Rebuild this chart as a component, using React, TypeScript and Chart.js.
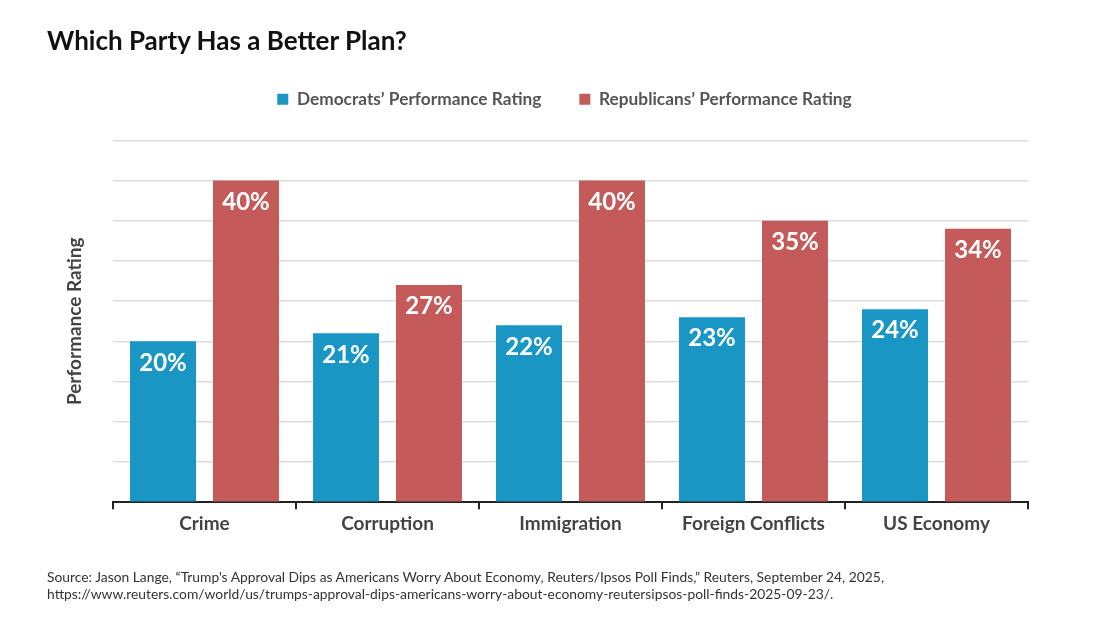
import React, { useEffect, useRef } from "react";
import { Chart, registerables } from "chart.js";

Chart.register(...registerables);

const categories = ["Crime", "Corruption", "Immigration", "Foreign Conflicts", "US Economy"];
const democrats = [20, 21, 22, 23, 24];
const republicans = [40, 27, 40, 35, 34];
const seriesNames = ["Democrats\u2019 Performance Rating", "Republicans\u2019 Performance Rating"];

const BLUE = "#1a96c4";
const RED = "#c45a5a";

const valueLabels = {
  id: "valueLabels",
  afterDatasetsDraw(chart: any) {
    const ctx = chart.ctx;
    ctx.save();
    ctx.fillStyle = "#ffffff";
    ctx.font = "bold 24px Lato";
    ctx.textAlign = "center";
    ctx.textBaseline = "middle";
    chart.data.datasets.forEach((ds: any, i: number) => {
      const meta = chart.getDatasetMeta(i);
      meta.data.forEach((bar: any, j: number) => {
        ctx.fillText(`${ds.data[j]}%`, bar.x, bar.y + 21.5);
      });
    });
    ctx.restore();
  },
};

const legendSpacer = {
  id: "legendSpacer",
  beforeLayout(chart: any) {
    const lg = chart.legend;
    if (lg && !lg.__patched) {
      const orig = lg.fit;
      lg.fit = function () {
        orig.call(this);
        this.height += 22.5;
      };
      lg.__patched = true;
    }
  },
  afterLayout(chart: any) {
    const lg = chart.legend;
    if (lg) {
      lg.left = 9;
      lg.right = 1120;
    }
  },
};

export default function App() {
  const ref = useRef<HTMLCanvasElement>(null);
  useEffect(() => {
    if (!ref.current) return;
    const chart = new Chart(ref.current, {
      type: "bar",
      data: {
        labels: categories,
        datasets: [
          { label: seriesNames[0], data: democrats, backgroundColor: BLUE, categoryPercentage: 0.907, barPercentage: 0.795 },
          { label: seriesNames[1], data: republicans, backgroundColor: RED, categoryPercentage: 0.907, barPercentage: 0.795 },
        ],
      },
      options: {
        animation: false,
        responsive: false,
        maintainAspectRatio: false,
        layout: { padding: { top: 52.5, left: 59.6, right: 92, bottom: 88 } },
        plugins: {
          tooltip: { enabled: false },
          legend: {
            display: true,
            position: "top",
            labels: {
              boxWidth: 11,
              boxHeight: 11,
              padding: 38,
              color: "#555555",
              font: { family: "Lato", size: 17.3, weight: "bold" },
            },
          },
        },
        scales: {
          x: {
            grid: {
              display: true,
              drawOnChartArea: false,
              drawTicks: true,
              tickLength: 7,
              color: "#222222",
              lineWidth: 2,
              offset: true,
            },
            border: { display: true, color: "#222222", width: 2 },
            ticks: {
              color: "#444444",
              padding: 3,
              font: { family: "Lato", size: 19, weight: "bold" },
            },
          },
          y: {
            min: 0,
            max: 45,
            ticks: { display: false, stepSize: 5 },
            grid: { color: "#dddddd", lineWidth: 1.5, drawTicks: false },
            border: { display: false },
            title: {
              display: true,
              text: "Performance Rating",
              color: "#444444",
              font: { family: "Lato", size: 19, weight: "bold" },
              padding: { top: 4, bottom: 26.6 },
            },
          },
        },
      },
      plugins: [valueLabels, legendSpacer],
    });
    return () => chart.destroy();
  }, []);

  return (
    <div style={{ position: "absolute", left: 0, top: 0, width: 1120, height: 626, background: "#fff", fontFamily: "Lato" }}>
      <canvas ref={ref} width={1120} height={626} style={{ position: "absolute", left: 0, top: 0, width: 1120, height: 626 }} />
      <div style={{ position: "absolute", left: 47, top: 24, fontSize: 26, fontWeight: "bold", color: "#111" }}>
        Which Party Has a Better Plan?
      </div>
      <div style={{ position: "absolute", left: 47, top: 568, fontSize: 13.85, lineHeight: "17px", color: "#333" }}>
        Source: Jason Lange, {"\u201C"}Trump's Approval Dips as Americans Worry About Economy, Reuters/Ipsos Poll Finds,{"\u201D"} Reuters, September 24, 2025,
        <br />
        https://www.reuters.com/world/us/trumps-approval-dips-americans-worry-about-economy-reutersipsos-poll-finds-2025-09-23/.
      </div>
    </div>
  );
}
